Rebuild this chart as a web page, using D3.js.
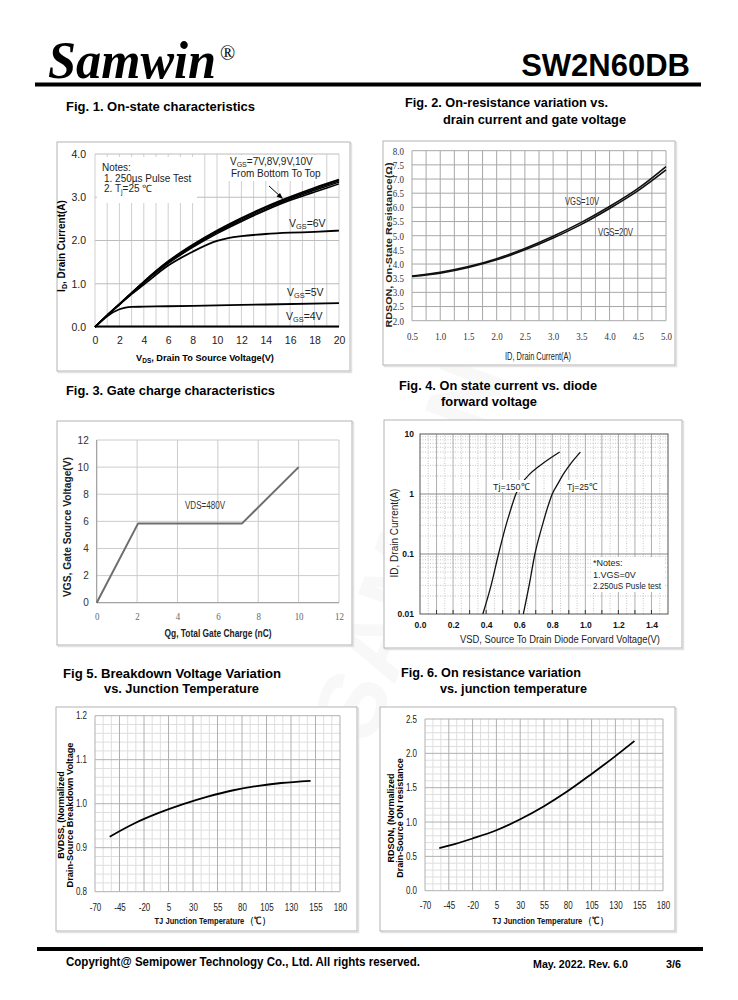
<!DOCTYPE html>
<html><head><meta charset="utf-8">
<script src="https://cdn.jsdelivr.net/npm/d3@7"></script>
<style>
body{margin:0;background:#fff}
svg{display:block}
</style>
</head><body>
<script>
// ================= DATA =================
// Fig.1 On-state characteristics
const fig1XTicks = [0,2,4,6,8,10,12,14,16,18,20];
const fig1YTicks = [0,1,2,3,4];
const fig1Vds    = [0,1,2,3,4,6,8,10,12,14,16,18,20];
const fig1Id10V  = [0,0.27,0.53,0.79,1.05,1.52,1.90,2.23,2.52,2.78,3.01,3.22,3.41];
const fig1Id9V   = [0,0.27,0.53,0.79,1.04,1.51,1.88,2.21,2.50,2.76,2.99,3.19,3.38];
const fig1Id8V   = [0,0.27,0.52,0.78,1.03,1.49,1.86,2.19,2.47,2.73,2.96,3.16,3.35];
const fig1Id7V   = [0,0.27,0.52,0.77,1.02,1.47,1.84,2.16,2.44,2.70,2.93,3.12,3.31];
const fig1Vds6V  = [0,1,2,3,4,6,8,10,11,12,14,16,18,20];
const fig1Id6V   = [0,0.27,0.52,0.76,0.98,1.42,1.74,1.99,2.06,2.10,2.15,2.18,2.20,2.23];
const fig1Vds5V  = [0,1,2,2.5,3,4,6,10,14,20];
const fig1Id5V   = [0,0.25,0.41,0.45,0.465,0.47,0.48,0.50,0.52,0.55];
const fig1Vds4V  = [0,20];
const fig1Id4V   = [0.01,0.01];

// Fig.2 On-resistance vs drain current
const fig2XTicks = [0.5,1.0,1.5,2.0,2.5,3.0,3.5,4.0,4.5,5.0];
const fig2YTicks = [2.0,2.5,3.0,3.5,4.0,4.5,5.0,5.5,6.0,6.5,7.0,7.5,8.0];
const fig2Id     = [0.5,1.0,1.5,2.0,2.5,3.0,3.5,4.0,4.5,5.0];
const fig2R10V   = [3.58,3.71,3.91,4.19,4.55,4.98,5.47,6.03,6.66,7.44];
const fig2R20V   = [3.56,3.68,3.88,4.15,4.50,4.92,5.40,5.96,6.58,7.32];

// Fig.3 Gate charge
const fig3XTicks = [0,2,4,6,8,10,12];
const fig3YTicks = [0,2,4,6,8,10,12];
const fig3Qg     = [0,2.05,7.2,10];
const fig3Vgs    = [0,5.85,5.85,10];

// Fig.4 Diode forward voltage
const fig4XTicks  = [0.0,0.2,0.4,0.6,0.8,1.0,1.2,1.4];
const fig4YTicks  = [0.01,0.1,1,10];
const fig4Vsd150  = [0.38,0.43,0.475,0.52,0.553,0.58,0.615,0.66,0.72,0.785,0.845];
const fig4Id150   = [0.01,0.03,0.1,0.3,0.6,1.0,1.5,2.1,2.9,3.9,5];
const fig4Vsd25   = [0.625,0.66,0.695,0.74,0.772,0.80,0.835,0.87,0.915,0.97];
const fig4Id25    = [0.01,0.03,0.1,0.3,0.6,1.0,1.5,2.2,3.3,5];

// Fig.5 Breakdown voltage vs Tj
const tempTicks  = [-70,-45,-20,5,30,55,80,105,130,155,180];
const fig5YTicks = [0.8,0.9,1.0,1.1,1.2];
const fig5Tj     = [-55,-30,-5,20,45,70,95,120,150];
const fig5Bv     = [0.925,0.955,0.979,0.999,1.016,1.030,1.040,1.047,1.052];

// Fig.6 On resistance vs Tj
const fig6YTicks = [0.0,0.5,1.0,1.5,2.0,2.5];
const fig6Tj     = [-55,-45,-20,5,30,55,80,105,130,150];
const fig6R      = [0.62,0.655,0.76,0.88,1.04,1.23,1.45,1.70,1.96,2.18];

// ================= DRAWING =================
const SANS = '"Liberation Sans", Arial, sans-serif';
const SERIF = '"Liberation Serif", "Times New Roman", serif';
const svg = d3.select("body").append("svg").attr("width",738).attr("height",1000)
  .attr("font-family",SANS);

function T(x,y,s,o={}){
  const t = svg.append("text").attr("x",x).attr("y",y)
    .attr("font-size",o.size||11).attr("font-weight",o.weight||"normal")
    .attr("fill",o.fill||"#000").attr("text-anchor",o.anchor||"start")
    .attr("font-family",o.family||SANS);
  if(o.style) t.attr("font-style",o.style);
  if(o.rot){ t.attr("x",0).attr("y",0).attr("transform",`translate(${x},${y}) rotate(${o.rot})`); }
  if(o.len){ t.attr("textLength",o.len).attr("lengthAdjust","spacingAndGlyphs"); }
  if(o.parts){
    o.parts.forEach(p=>{
      const ts=t.append("tspan").text(p[0]);
      if(p[1]==="sub") ts.attr("font-size",(o.size||11)*0.7).attr("dy",1.5);
      if(p[1]==="up") ts.attr("dy",-1.5);
    });
  } else t.text(s);
  return t;
}
function box(x0,y0,x1,y1){
  svg.append("rect").attr("x",x0+1.5).attr("y",y0+1.5).attr("width",x1-x0).attr("height",y1-y0)
    .attr("fill","none").attr("stroke","#e2e2e2").attr("stroke-width",1.5);
  svg.append("rect").attr("x",x0).attr("y",y0).attr("width",x1-x0).attr("height",y1-y0)
    .attr("fill","#fff").attr("stroke","#b4b4b4").attr("stroke-width",1);
}
function vgrid(g,x,y,vals,color,w,dash){
  g.selectAll(null).data(vals).join("line")
    .attr("x1",d=>x(d)).attr("x2",d=>x(d)).attr("y1",y.range()[0]).attr("y2",y.range()[1])
    .attr("stroke",color).attr("stroke-width",w||1).attr("stroke-dasharray",dash||null);
}
function hgrid(g,x,y,vals,color,w,dash){
  g.selectAll(null).data(vals).join("line")
    .attr("y1",d=>y(d)).attr("y2",d=>y(d)).attr("x1",x.range()[0]).attr("x2",x.range()[1])
    .attr("stroke",color).attr("stroke-width",w||1).attr("stroke-dasharray",dash||null);
}
function zip(a,b){ return a.map((v,i)=>[v,b[i]]); }
function drawLine(g,x,y,xs,ys,color,w,curve){
  g.append("path").datum(zip(xs,ys))
    .attr("d",d3.line().x(d=>x(d[0])).y(d=>y(d[1])).curve(curve||d3.curveMonotoneX))
    .attr("fill","none").attr("stroke",color).attr("stroke-width",w).attr("stroke-linejoin","round");
}
function styleTicks(g,o){
  g.select(".domain").remove();
  g.selectAll("text").attr("font-size",o.size||10).attr("font-family",o.family||SANS)
    .attr("font-weight",o.weight||"normal").attr("fill",o.fill||"#222");
  if(o.squeeze){
    g.selectAll("text").each(function(){
      const L=this.getComputedTextLength();
      d3.select(this).attr("textLength",L*o.squeeze).attr("lengthAdjust","spacingAndGlyphs");
    });
  }
}
function xAxis(x,yPos,ticks,fmt,o={}){
  const g = svg.append("g").attr("transform",`translate(0,${yPos})`)
    .call(d3.axisBottom(x).tickValues(ticks).tickFormat(fmt).tickSize(0).tickPadding(o.pad||8));
  styleTicks(g,o); return g;
}
function yAxis(y,xPos,ticks,fmt,o={}){
  const g = svg.append("g").attr("transform",`translate(${xPos},0)`)
    .call(d3.axisLeft(y).tickValues(ticks).tickFormat(fmt).tickSize(0).tickPadding(o.pad||6));
  styleTicks(g,o); return g;
}

// ---------- header ----------
T(48,78,"Samwin",{size:52,weight:"bold",style:"italic",family:SERIF,len:168});
T(220,60,"®",{size:20,family:SERIF});
T(690,76,"SW2N60DB",{size:31,weight:"bold",anchor:"end"});
svg.append("rect").attr("x",35).attr("y",82.5).attr("width",666).attr("height",4).attr("fill","#000");

// watermark
T(440,560,"SAMWIN",{size:95,weight:"bold",fill:"#000",rot:-70,anchor:"middle"}).attr("opacity",0.025);

// ---------- figure titles ----------
T(66,111,"Fig. 1. On-state characteristics",{size:12,weight:"bold",len:189});
T(405,107,"Fig. 2. On-resistance variation vs.",{size:12,weight:"bold",len:203});
T(443,124,"drain current and gate voltage",{size:12,weight:"bold",len:183});
T(66,395,"Fig. 3. Gate charge characteristics",{size:12,weight:"bold",len:209});
T(399,390,"Fig. 4. On state current vs. diode",{size:12,weight:"bold",len:198});
T(441,406,"forward voltage",{size:12,weight:"bold",len:96});
T(63,678,"Fig 5. Breakdown Voltage Variation",{size:12,weight:"bold",len:218});
T(104,693,"vs. Junction Temperature",{size:12,weight:"bold",len:155});
T(401,677,"Fig. 6. On resistance variation",{size:12,weight:"bold",len:180});
T(440,693,"vs. junction temperature",{size:12,weight:"bold",len:147});

// ---------- Fig 1 ----------
box(57,142,350,371);
{
  const x = d3.scaleLinear([0,20],[95,339]);
  const y = d3.scaleLinear([0,4],[327,154]);
  const g = svg.append("g");
  vgrid(g,x,y,d3.range(0,21,1),"#cfcfcf",1);
  hgrid(g,x,y,fig1YTicks,"#bdbdbd",1);
  g.append("rect").attr("x",97).attr("y",157).attr("width",100).attr("height",46).attr("fill","#fff");
  g.append("rect").attr("x",228).attr("y",155).attr("width",92).attr("height",26).attr("fill","#fff");
  drawLine(g,x,y,fig1Vds4V,fig1Id4V,"#000",2);
  drawLine(g,x,y,fig1Vds5V,fig1Id5V,"#000",1.8);
  drawLine(g,x,y,fig1Vds6V,fig1Id6V,"#000",1.8);
  drawLine(g,x,y,fig1Vds,fig1Id7V,"#000",1.5);
  drawLine(g,x,y,fig1Vds,fig1Id8V,"#000",1.5);
  drawLine(g,x,y,fig1Vds,fig1Id9V,"#000",1.5);
  drawLine(g,x,y,fig1Vds,fig1Id10V,"#000",1.8);
  xAxis(x,327,fig1XTicks,d3.format("d"),{pad:10,size:10.5});
  yAxis(y,95,fig1YTicks,d3.format(".1f"),{pad:9,size:10.5});
  T(102,171,"Notes:",{size:10,fill:"#222"});
  T(104,181.5,"1. 250µs  Pulse Test",{size:10,fill:"#222"});
  T(104,192,"",{size:10,fill:"#222",parts:[["2. T"],["j","sub"],["=25 ℃","up"]]});
  T(230,165,"",{size:10,fill:"#222",parts:[["V"],["GS","sub"],["=7V,8V,9V,10V","up"]]});
  T(231,177,"From Bottom To Top",{size:10,fill:"#222"});
  g.append("line").attr("x1",269).attr("y1",186).attr("x2",281).attr("y2",197).attr("stroke","#000").attr("stroke-width",1);
  g.append("path").attr("d","M283,199 L276.5,196.5 L280,193 Z").attr("fill","#000");
  T(289,227,"",{size:10.5,fill:"#222",parts:[["V"],["GS","sub"],["=6V","up"]]});
  T(287,296,"",{size:10.5,fill:"#222",parts:[["V"],["GS","sub"],["=5V","up"]]});
  T(286,320,"",{size:10.5,fill:"#222",parts:[["V"],["GS","sub"],["=4V","up"]]});
  T(65,246,"",{size:10,weight:"bold",rot:-90,anchor:"middle",parts:[["I"],["D","sub"],[", Drain Current(A)","up"]]});
  T(205,361,"",{size:9.2,weight:"bold",anchor:"middle",parts:[["V"],["DS","sub"],[", Drain To Source Voltage(V)","up"]]});
}

// ---------- Fig 2 ----------
box(383,141,675,365);
{
  const x = d3.scaleLinear([0.5,5],[412,666]);
  const y = d3.scaleLinear([2,8],[320.7,150.7]);
  const g = svg.append("g");
  vgrid(g,x,y,d3.range(0.5,5.01,0.25),"#a8a8a8",1);
  hgrid(g,x,y,fig2YTicks,"#a8a8a8",1);
  drawLine(g,x,y,fig2Id,fig2R10V,"#111",1.6);
  drawLine(g,x,y,fig2Id,fig2R20V,"#111",1.6);
  xAxis(x,321,fig2XTicks,d3.format(".1f"),{pad:12,size:10.5,family:SERIF,fill:"#333",squeeze:0.85});
  yAxis(y,412,fig2YTicks,d3.format(".1f"),{pad:8,size:10.5,family:SERIF,fill:"#333",squeeze:0.85});
  T(565,205,"VGS=10V",{size:10,fill:"#333",len:34});
  T(598,236,"VGS=20V",{size:10,fill:"#333",len:35});
  T(392,245,"RDSON, On-State Resistance(Ω)",{size:9,weight:"bold",rot:-90,anchor:"middle",len:165,fill:"#222"});
  T(538,360,"ID, Drain Current(A)",{size:10.5,anchor:"middle",len:66,fill:"#222"});
}

// ---------- Fig 3 ----------
box(57,421,352,645);
{
  const x = d3.scaleLinear([0,12],[96.7,339]);
  const y = d3.scaleLinear([0,12],[602.7,440]);
  const g = svg.append("g");
  vgrid(g,x,y,fig3XTicks,"#cccccc",1);
  hgrid(g,x,y,fig3YTicks,"#cccccc",1);
  g.append("line").attr("x1",x(0)).attr("x2",x(0)).attr("y1",y(0)).attr("y2",y(12)).attr("stroke","#9a9a9a");
  g.append("line").attr("x1",x(0)).attr("x2",x(12)).attr("y1",y(0)).attr("y2",y(0)).attr("stroke","#9a9a9a");
  drawLine(g,x,y,fig3Qg,fig3Vgs,"#6e6e6e",2,d3.curveLinear);
  xAxis(x,603,fig3XTicks,d3.format("d"),{pad:10,size:10.5,family:SERIF,fill:"#666",squeeze:0.85});
  yAxis(y,96.7,fig3YTicks,d3.format("d"),{pad:8,size:10,fill:"#333"});
  T(205,509,"VDS=480V",{size:10,anchor:"middle",len:40,fill:"#333"});
  T(71,527,"VGS,  Gate Source Voltage(V)",{size:10.5,weight:"bold",rot:-90,anchor:"middle",len:140,fill:"#222"});
  T(218,637,"Qg, Total Gate Charge (nC)",{size:10.5,weight:"bold",anchor:"middle",len:107,fill:"#222"});
}

// ---------- Fig 4 ----------
box(384,420,682,648);
{
  const x = d3.scaleLinear([0,1.5],[420,668]);
  const y = d3.scaleLog([0.01,10],[614,434]);
  const g = svg.append("g");
  const minorX = d3.range(0.05,1.5,0.1);
  const majorX = d3.range(0.1,1.45,0.1);
  const minorY = [];
  [0.01,0.1,1].forEach(dec=>{ for(let k=2;k<=9;k++) minorY.push(k*dec); });
  vgrid(g,x,y,minorX,"#b8b8b8",0.8,"1,1.5");
  hgrid(g,x,y,minorY,"#b8b8b8",0.8,"1,1.5");
  vgrid(g,x,y,majorX,"#9a9a9a",0.8);
  hgrid(g,x,y,[0.1,1],"#8a8a8a",1);
  g.append("rect").attr("x",420).attr("y",434).attr("width",248).attr("height",180)
    .attr("fill","none").attr("stroke","#555").attr("stroke-width",1);
  g.selectAll(null).data(majorX).join("line").attr("x1",d=>x(d)).attr("x2",d=>x(d))
    .attr("y1",614).attr("y2",610).attr("stroke","#333");
  drawLine(g,x,y,fig4Vsd150,fig4Id150,"#111",1.3);
  drawLine(g,x,y,fig4Vsd25,fig4Id25,"#111",1.3);
  xAxis(x,614,fig4XTicks,d3.format(".1f"),{pad:8,size:8.5,weight:"bold",fill:"#111"});
  yAxis(y,420,fig4YTicks,d=>String(d),{pad:6,size:8.5,weight:"bold",fill:"#111"});
  g.append("rect").attr("x",493).attr("y",480).attr("width",36).attr("height",12).attr("fill","#fff");
  g.append("rect").attr("x",566).attr("y",480).attr("width",31).attr("height",12).attr("fill","#fff");
  T(493,490,"Tj=150℃",{size:9.5,fill:"#222",len:36});
  T(567,490,"Tj=25℃",{size:9.5,fill:"#222",len:30});
  g.append("rect").attr("x",592).attr("y",557).attr("width",72).attr("height",35).attr("fill","#fff");
  T(593,566,"*Notes:",{size:9,fill:"#222"});
  T(593,577.5,"1.VGS=0V",{size:9,fill:"#222"});
  T(593,589,"2.250uS Pusle test",{size:9,fill:"#222",len:68});
  T(398,533,"ID,  Drain Current(A)",{size:10,rot:-90,anchor:"middle",fill:"#222"});
  T(560,643,"VSD, Source To Drain Diode Forvard Voltage(V)",{size:10,anchor:"middle",len:200,fill:"#222"});
}

// ---------- Fig 5 & 6 shared grid helper ----------
function tempGrid(g,x,y,yMinor,yMajor){
  const minorX = [];
  for(let t=-70;t<180;t+=25){ minorX.push(t+25/3, t+50/3); }
  vgrid(g,x,y,minorX,"#dedede",1);
  hgrid(g,x,y,yMinor,"#dedede",1);
  vgrid(g,x,y,tempTicks,"#b0b0b0",1);
  hgrid(g,x,y,yMajor,"#b0b0b0",1);
}
const hyphenInt = d => String(d);

// ---------- Fig 5 ----------
box(56,707,357,931);
{
  const x = d3.scaleLinear([-70,180],[95,340]);
  const y = d3.scaleLinear([0.8,1.2],[891.7,715.7]);
  const g = svg.append("g");
  tempGrid(g,x,y,d3.range(0.82,1.2,0.02).filter(v=>Math.abs(v*10-Math.round(v*10))>1e-6),fig5YTicks);
  drawLine(g,x,y,fig5Tj,fig5Bv,"#000",1.8);
  xAxis(x,892,tempTicks,hyphenInt,{pad:12,size:10,fill:"#222",squeeze:0.8});
  yAxis(y,95,fig5YTicks,d3.format(".1f"),{pad:8,size:10,fill:"#222",squeeze:0.8});
  T(63.5,815,"BVDSS, (Normalized",{size:9,weight:"bold",rot:-90,anchor:"middle"});
  T(72.5,815,"Drain-Source Breakdown Voltage",{size:9,weight:"bold",rot:-90,anchor:"middle",len:145});
  T(212,924,"TJ  Junction Temperature （℃）",{size:9.5,weight:"bold",anchor:"middle",len:115,fill:"#111"});
}

// ---------- Fig 6 ----------
box(380,707,675,931);
{
  const x = d3.scaleLinear([-70,180],[425,663]);
  const y = d3.scaleLinear([0,2.5],[890.7,719]);
  const g = svg.append("g");
  tempGrid(g,x,y,d3.range(0.1,2.5,0.1).filter(v=>Math.abs(v*2-Math.round(v*2))>1e-6),fig6YTicks);
  drawLine(g,x,y,fig6Tj,fig6R,"#000",1.8);
  xAxis(x,891,tempTicks,hyphenInt,{pad:11,size:10,fill:"#222",squeeze:0.8});
  yAxis(y,425,fig6YTicks,d3.format(".1f"),{pad:8,size:10,fill:"#222",squeeze:0.8});
  T(393.5,818,"RDSON, (Normalized",{size:9,weight:"bold",rot:-90,anchor:"middle"});
  T(402.5,818,"Drain-Source ON resistance",{size:9,weight:"bold",rot:-90,anchor:"middle"});
  T(550,924,"TJ  Junction Temperature （℃）",{size:9.5,weight:"bold",anchor:"middle",len:115,fill:"#111"});
}

// ---------- footer ----------
svg.append("rect").attr("x",37).attr("y",947).attr("width",666).attr("height",4).attr("fill","#000");
T(66,966,"Copyright@ Semipower Technology Co., Ltd. All rights reserved.",{size:12,weight:"bold",len:354});
T(533,968,"May. 2022. Rev. 6.0",{size:11,weight:"bold",len:95});
T(666,968,"3/6",{size:11,weight:"bold",len:15});
</script>
</body></html>
